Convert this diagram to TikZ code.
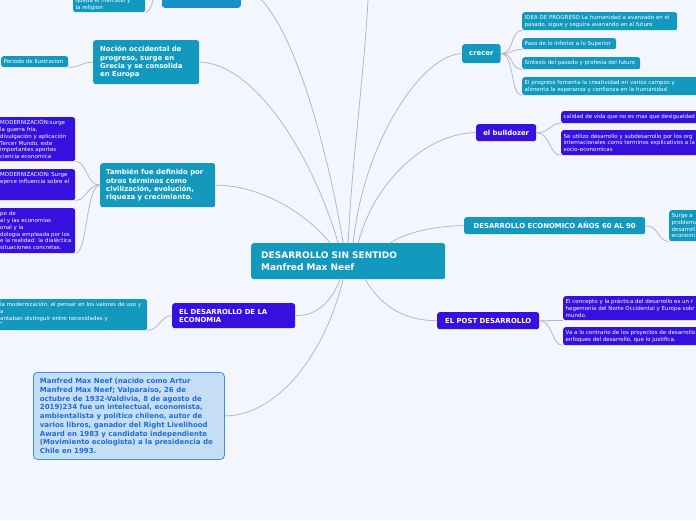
\documentclass[tikz,border=0pt]{standalone}
\usepackage{fontspec}
\setmainfont{DejaVu Sans}
\definecolor{mmPaper}{HTML}{F4F6FE}
\definecolor{mmTeal}{HTML}{1399BE}
\definecolor{mmViolet}{HTML}{3510DE}
\definecolor{mmLine}{HTML}{B6B7C0}
\definecolor{mmSky}{HTML}{C5DEF3}
\definecolor{mmSkyEdge}{HTML}{3B8DE6}
\definecolor{mmSkyInk}{HTML}{1F6ED8}
\definecolor{mmBlue}{HTML}{1592C8}
\definecolor{mmBlueEdge}{HTML}{2A80E2}
\tikzset{
  box/.style       ={rounded corners=2.5pt,anchor=north west,text=white,align=flush left,
                     inner ysep=0pt},
  rootbox/.style   ={box,fill=mmTeal,inner xsep=10pt,font=\fontsize{9}{12}\selectfont\bfseries},
  topicA/.style    ={box,fill=mmTeal,inner xsep=7pt,font=\fontsize{6.9}{8.3}\selectfont\bfseries},
  topicB/.style    ={topicA,fill=mmViolet},
  leafA/.style     ={box,fill=mmTeal,inner xsep=2.5pt,font=\fontsize{5.5}{6.7}\selectfont},
  leafB/.style     ={leafA,fill=mmViolet},
  biobox/.style    ={box,fill=mmSky,draw=mmSkyEdge,line width=0.8pt,text=mmSkyInk,
                     rounded corners=4pt,inner xsep=6.5pt,
                     font=\fontsize{7}{8.75}\selectfont\bfseries},
  boxsize/.style 2 args={minimum width=#1,minimum height=#2},
  link/.style      ={mmLine,line width=0.8pt},
}

\begin{document}
\begin{tikzpicture}[x=1pt,y=1pt]
\useasboundingbox[fill=mmPaper] (0,0) rectangle (696,520);

% centre
\node[rootbox,boxsize={194pt}{36pt},text width=174pt] (root) at (251,277)
  {DESARROLLO SIN SENTIDO\\Manfred Max Neef};

% left half
\node[box,fill=mmBlue,draw=mmBlueEdge,line width=0.8pt,boxsize={78pt}{37pt}] (topnode) at (162,550) {};
\node[leafA,boxsize={72pt}{15.5pt},text width=67pt] (relig) at (73,523.5)
  {queda el mercado y\\la religion};
\node[topicA,boxsize={106pt}{44pt},text width=92pt] (nocion) at (93,480)
  {Noción occidental de\\progreso, surge en\\Grecia y se consolida\\en Europa};
\node[leafA,boxsize={67pt}{11pt},text width=62pt] (periodo) at (1,464) {Periodo de Ilustracion};
\node[topicA,boxsize={115pt}{44pt},text width=103pt,inner xsep=6pt] (tambien) at (100,357)
  {También fue definido por\\otros términos como\\civilización, evolución,\\riqueza y crecimiento.};
\node[leafB,boxsize={77pt}{44pt},text width=73pt,inner xsep=2pt] (mod1) at (-2,403)
  {MODERNIZACIÓN:surge\\la guerra fría,\\divulgación y aplicación\\Tercer Mundo, este\\importantes aportes\\ciencia economica};
\node[leafB,boxsize={77pt}{31pt},text width=73pt,inner xsep=2pt] (mod2) at (-2,351)
  {MODERNIZACION: Surge\\ejerce influencia sobre el\\\mbox{}\\\mbox{}};
\node[leafB,boxsize={77pt}{45pt},text width=73pt,inner xsep=2pt] (mod3) at (-2,312)
  {po de\\al y las economías\\onal y la\\dologia empleada por los\\e la realidad: la dialéctica\\situaciones concretas.};
\node[topicB,boxsize={123pt}{25pt},text width=109pt] (deseco) at (172,217)
  {EL DESARROLLO DE LA\\ECONOMIA};
\node[leafA,boxsize={149pt}{31pt},text width=145pt,inner xsep=2pt] (valuso) at (-2,221)
  {la modernización, el pensar en los valores de uso y\\a\\antaban distinguir entre necesidades y\\”};
\node[biobox,boxsize={191pt}{87pt},text width=178pt] (bio) at (33,148)
  {Manfred Max Neef (nacido como Artur\\Manfred Max Neef; Valparaíso, 26 de\\octubre de 1932-Valdivia, 8 de agosto de\\2019)234 fue un intelectual, economista,\\ambientalista y político chileno, autor de\\varios libros, ganador del Right Livelihood\\Award en 1983 y candidato independiente\\(Movimiento ecologista) a la presidencia de\\Chile en 1993.};
\coordinate (offtop) at (369,545);

% right half
\node[topicA,align=center,boxsize={35pt}{19pt}] (crecer) at (462,476) {crecer};
\node[leafA,boxsize={155pt}{18pt},text width=150pt] (idea) at (522,508)
  {IDEA DE PROGRESO La humanidad a avanzado en el\\pasado, sigue y seguira avanando en el futuro};
\node[leafA,boxsize={94pt}{11pt},text width=89pt] (paso) at (522,482) {Paso de lo inferior a lo Superior};
\node[leafA,boxsize={118pt}{12pt},text width=113pt] (sint) at (522,463) {Sintesis del pasado y profesia del futuro};
\node[leafA,boxsize={205pt}{18pt},text width=200pt] (crea) at (522,443)
  {El progreso fomenta la creatividad en varios campos y\\alimenta la esperanza y confianza en la humanidad};
\node[topicB,align=center,boxsize={60pt}{17pt}] (bull) at (476,396) {el bulldozer};
\node[leafB,boxsize={205pt}{12pt},text width=200pt] (calidad) at (561,409)
  {calidad de vida que no es mas que desigualdad};
\node[leafB,boxsize={205pt}{25pt},text width=200pt] (seut) at (561,390)
  {Se utilizo desarrollo y subdesarrollo por los org\\internacionales como terminos explicativos a la\\socio-economicas};
\node[topicA,align=center,boxsize={181pt}{17pt}] (econ) at (464,303) {DESARROLLO ECONOMICO AÑOS 60 AL 90};
\node[leafA,boxsize={105pt}{31pt},text width=100pt] (surge) at (669,310)
  {Surge a\\problema\\desarroll\\economi};
\node[topicB,align=center,boxsize={102pt}{17pt}] (post) at (437,208) {EL POST DESARROLLO};
\node[leafB,boxsize={205pt}{24pt},text width=200pt] (conc) at (563,224)
  {El concepto y la práctica del desarrollo es un r\\hegemonía del Norte Occidental y Europa sobr\\mundo.};
\node[leafB,boxsize={205pt}{18pt},text width=200pt] (vaa) at (563,193)
  {Va a lo contrario de los proyectos de desarrollo\\enfoques del desarrollo, que lo justifica.};

% main branches
\draw[link] ([xshift=-5pt]root.north)  .. controls +(-20,120) and +(40,0)  .. (topnode.east);
\draw[link] (root.north)               .. controls +(3,80)    and +(-2,-80) .. (offtop);
\draw[link] ([xshift=-10pt]root.north) .. controls +(-30,100) and +(50,0)  .. (nocion.east);
\draw[link] ([xshift=-18pt]root.north) .. controls +(-20,25)  and +(50,0)  .. (tambien.east);
\draw[link] ([xshift=5pt]root.north)   .. controls +(10,100)  and +(-40,0) .. (crecer.west);
\draw[link] ([xshift=10pt]root.north)  .. controls +(15,60)   and +(-50,0) .. (bull.west);
\draw[link] ([xshift=42pt]root.north)  .. controls +(15,10)   and +(-30,0) .. (econ.west);
\draw[link] ([xshift=-8pt]root.south)  .. controls +(-10,-25) and +(20,0)  .. (deseco.east);
\draw[link] ([xshift=-5pt]root.south)  .. controls +(-20,-80) and +(50,0)  .. (bio.east);
\draw[link] ([xshift=17pt]root.south)  .. controls +(15,-25)  and +(-35,0) .. (post.west);

% sub branches
\foreach \leaf in {idea,paso,sint,crea}
  \draw[link] (crecer.east) .. controls +(14,0) and +(-12,0) .. (\leaf.south west);
\foreach \leaf in {calidad,seut}
  \draw[link] (bull.east) .. controls +(14,0) and +(-12,0) .. (\leaf.south west);
\foreach \leaf in {conc,vaa}
  \draw[link] (post.east) .. controls +(14,0) and +(-12,0) .. (\leaf.south west);
\draw[link] (econ.east) .. controls +(14,0) and +(-12,0) .. (surge.south west);
\foreach \leaf in {mod1,mod2,mod3}
  \draw[link] (tambien.west) .. controls +(-14,0) and +(12,0) .. (\leaf.south east);
\draw[link] (nocion.west) .. controls +(-12,0) and +(12,0) .. (periodo.south east);
\draw[link] (deseco.west) .. controls +(-12,0) and +(12,0) .. (valuso.south east);
\draw[link] (topnode.west) .. controls +(-10,0) and +(8,0) .. (relig.south east);
\end{tikzpicture}
\end{document}
